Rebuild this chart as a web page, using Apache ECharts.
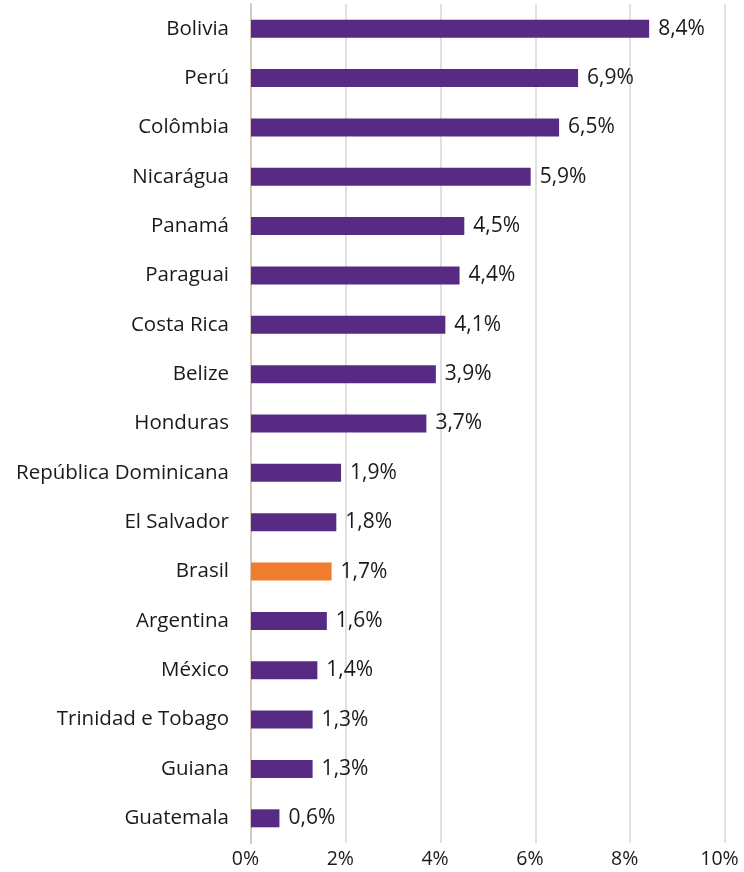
<!DOCTYPE html>
<html>
<head>
<meta charset="utf-8">
<script src="https://cdn.jsdelivr.net/npm/echarts@6/dist/echarts.min.js"></script>
<style>
  html, body { margin: 0; padding: 0; background: #ffffff; }
  #chart { width: 744px; height: 872px; }
</style>
</head>
<body>
<div id="chart"></div>
<script>
// Countries, top to bottom
const countries = [
  'Bolivia', 'Perú', 'Colômbia', 'Nicarágua', 'Panamá', 'Paraguai',
  'Costa Rica', 'Belize', 'Honduras', 'República Dominicana', 'El Salvador',
  'Brasil', 'Argentina', 'México', 'Trinidad e Tobago', 'Guiana', 'Guatemala'
];
// Values in percent
const values = [8.4, 6.9, 6.5, 5.9, 4.5, 4.4, 4.1, 3.9, 3.7, 1.9, 1.8, 1.7, 1.6, 1.4, 1.3, 1.3, 0.6];
const highlight = 'Brasil';
// Axis ticks
const xTicks = [0, 2, 4, 6, 8, 10];

const PURPLE = '#572a84';
const ORANGE = '#f07c30';
const FONT = '"Open Sans"';
const TEXT = '#1a1a1a';

const chart = echarts.init(document.getElementById('chart'), null, { renderer: 'canvas' });

// category axis is inverted so the first country sits at the top
const data = countries.map((c, i) => ({
  value: values[i],
  itemStyle: { color: c === highlight ? ORANGE : PURPLE }
}));

chart.setOption({
  animation: false,
  backgroundColor: '#ffffff',
  grid: { left: 251, right: 19, top: 4, bottom: 29, containLabel: false },
  xAxis: {
    type: 'value',
    min: xTicks[0],
    max: xTicks[xTicks.length - 1],
    interval: 2,
    axisLine: { show: false },
    axisTick: { show: false },
    splitLine: { show: true, lineStyle: { color: '#e2e0df', width: 2 } },
    axisLabel: {
      color: TEXT,
      fontFamily: FONT,
      fontSize: 19.5,
      margin: 6,
      padding: [0, 11, 0, 0],
      formatter: v => v + '%'
    }
  },
  yAxis: {
    type: 'category',
    data: countries,
    inverse: true,
    axisLine: { show: true, lineStyle: { color: '#d8c8bc', width: 2 } },
    axisTick: { show: false },
    axisLabel: {
      color: TEXT,
      fontFamily: FONT,
      fontSize: 20.5,
      margin: 22
    }
  },
  series: [{
    type: 'bar',
    data: data,
    barWidth: 18,
    label: {
      show: true,
      position: 'right',
      distance: 9,
      color: TEXT,
      fontFamily: FONT,
      fontSize: 21,
      formatter: p => p.value.toFixed(1).replace('.', ',') + '%'
    }
  }]
});
</script>
</body>
</html>
